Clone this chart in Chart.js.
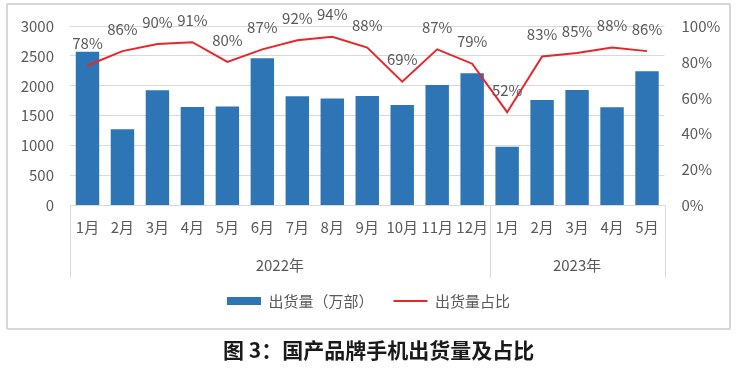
<!DOCTYPE html>
<html>
<head>
<meta charset="utf-8">
<script src="https://cdn.jsdelivr.net/npm/chart.js@4/dist/chart.umd.min.js"></script>
<style>
    html, body { margin: 0; padding: 0; background: #fff; }
    #wrap { position: relative; width: 737px; height: 368px; overflow: hidden; }
    #frame {
        position: absolute; left: 6px; top: 3px; width: 721px; height: 323px;
        border: 2px solid #d6d6d6; border-radius: 2px;
    }
    #chart { position: absolute; left: 0; top: 0; }
    #title {
        position: absolute; left: 223px; top: 338px;
        font: bold 21px/22px "Noto Sans CJK SC", sans-serif; color: #1a1a1a;
        white-space: nowrap;
    }
</style>
</head>
<body>
<div id="wrap">
    <div id="frame"></div>
    <canvas id="chart" width="737" height="368"></canvas>
    <div id="title">图 3：国产品牌手机出货量及占比</div>
</div>
<script>
(function () {
    'use strict';

    // months on the category axis, grouped by year
    var MONTHS = ['1月', '2月', '3月', '4月', '5月', '6月', '7月', '8月', '9月', '10月', '11月', '12月',
        '1月', '2月', '3月', '4月', '5月'];
    var YEARS = ['2022年', '2023年'];
    var YEAR_SIZES = [12, 5];

    // 出货量（万部）
    var SHIPMENTS = [2570, 1276, 1926, 1645, 1656, 2460, 1826, 1788, 1832, 1678, 2013, 2212,
        983, 1765, 1930, 1640, 2245];
    // 出货量占比 (%)
    var SHARE = [78, 86, 90, 91, 80, 87, 92, 94, 88, 69, 87, 79, 52, 83, 85, 88, 86];

    var BLUE = '#2e75b6';
    var RED = '#e8262b';
    var TEXT = '#595959';
    var GRID = '#d9d9d9';
    var FONT = '"Noto Sans CJK SC", "Open Sans", sans-serif';

    // year groups + separators below the month labels
    var groupAxis = {
        id: 'groupAxis',
        afterDraw: function (chart) {
            var x = chart.scales.x;
            var ctx = chart.ctx;
            var half = (x.getPixelForValue(1) - x.getPixelForValue(0)) / 2;
            var top = chart.chartArea.bottom;
            var bottom = top + 72;
            ctx.save();
            ctx.strokeStyle = GRID;
            ctx.lineWidth = 1;
            ctx.fillStyle = TEXT;
            ctx.font = '15px ' + FONT;
            ctx.textAlign = 'center';
            ctx.textBaseline = 'middle';
            var start = 0;
            for (var g = 0; g < YEARS.length; g++) {
                var end = start + YEAR_SIZES[g] - 1;
                var left = x.getPixelForValue(start) - half;
                var right = x.getPixelForValue(end) + half;
                ctx.beginPath();
                ctx.moveTo(Math.round(left) + 0.5, top);
                ctx.lineTo(Math.round(left) + 0.5, bottom);
                if (g === YEARS.length - 1) {
                    ctx.moveTo(Math.round(right) + 0.5, top);
                    ctx.lineTo(Math.round(right) + 0.5, bottom);
                }
                ctx.stroke();
                ctx.fillText(YEARS[g], (left + right) / 2, top + 60);
                start = end + 1;
            }
            ctx.restore();
        }
    };

    // percentage labels above the line
    var shareLabels = {
        id: 'shareLabels',
        afterDatasetsDraw: function (chart) {
            var meta = chart.getDatasetMeta(1);
            var ctx = chart.ctx;
            ctx.save();
            ctx.fillStyle = TEXT;
            ctx.font = '15px ' + FONT;
            ctx.textAlign = 'center';
            ctx.textBaseline = 'middle';
            for (var i = 0; i < meta.data.length; i++) {
                var p = meta.data[i];
                ctx.fillText(SHARE[i] + '%', p.x, p.y - 22);
            }
            ctx.restore();
        }
    };

    new Chart(document.getElementById('chart'), {
        data: {
            labels: MONTHS,
            datasets: [{
                type: 'bar',
                label: '出货量（万部）',
                data: SHIPMENTS,
                backgroundColor: BLUE,
                yAxisID: 'y',
                categoryPercentage: 1,
                barPercentage: 0.67,
                order: 1
            }, {
                type: 'line',
                label: '出货量占比',
                data: SHARE,
                borderColor: RED,
                borderWidth: 2,
                pointRadius: 0,
                tension: 0,
                yAxisID: 'y1',
                order: 0
            }]
        },
        options: {
            responsive: false,
            animation: false,
            layout: { padding: { top: 24, left: 0, right: 0, bottom: 49.5 } },
            plugins: {
                tooltip: { enabled: false },
                legend: {
                    position: 'bottom',
                    labels: {
                        usePointStyle: true,
                        pointStyleWidth: 34,
                        boxHeight: 8,
                        padding: 20,
                        color: TEXT,
                        font: { family: FONT, size: 15 },
                        generateLabels: function (chart) {
                            var ds = chart.data.datasets;
                            return [{
                                text: ds[0].label, fillStyle: BLUE, strokeStyle: BLUE,
                                lineWidth: 0, pointStyle: 'rect', datasetIndex: 0, fontColor: TEXT
                            }, {
                                text: ds[1].label, fillStyle: RED, strokeStyle: RED,
                                lineWidth: 2, pointStyle: 'line', datasetIndex: 1, fontColor: TEXT
                            }];
                        }
                    }
                }
            },
            scales: {
                x: {
                    grid: { display: false, drawTicks: false },
                    border: { display: true, color: GRID, width: 1 },
                    ticks: {
                        color: TEXT, padding: 13, maxRotation: 0, autoSkip: false,
                        font: { family: FONT, size: 15 }
                    },
                    afterFit: function (s) { s.height = 68; }
                },
                y: {
                    position: 'left',
                    min: 0, max: 3000,
                    ticks: {
                        stepSize: 500, color: TEXT, padding: 16, font: { family: FONT, size: 15 },
                        callback: function (v) { return String(v); }
                    },
                    grid: { color: GRID, drawTicks: false },
                    border: { display: false },
                    afterFit: function (s) { s.width = 70; }
                },
                y1: {
                    position: 'right',
                    min: 0, max: 100,
                    ticks: {
                        stepSize: 20, color: TEXT, padding: 17, font: { family: FONT, size: 15 },
                        callback: function (v) { return v + '%'; }
                    },
                    grid: { display: false, drawTicks: false },
                    border: { display: false },
                    afterFit: function (s) { s.width = 72.5; }
                }
            }
        },
        plugins: [groupAxis, shareLabels]
    });
})();
</script>
</body>
</html>
